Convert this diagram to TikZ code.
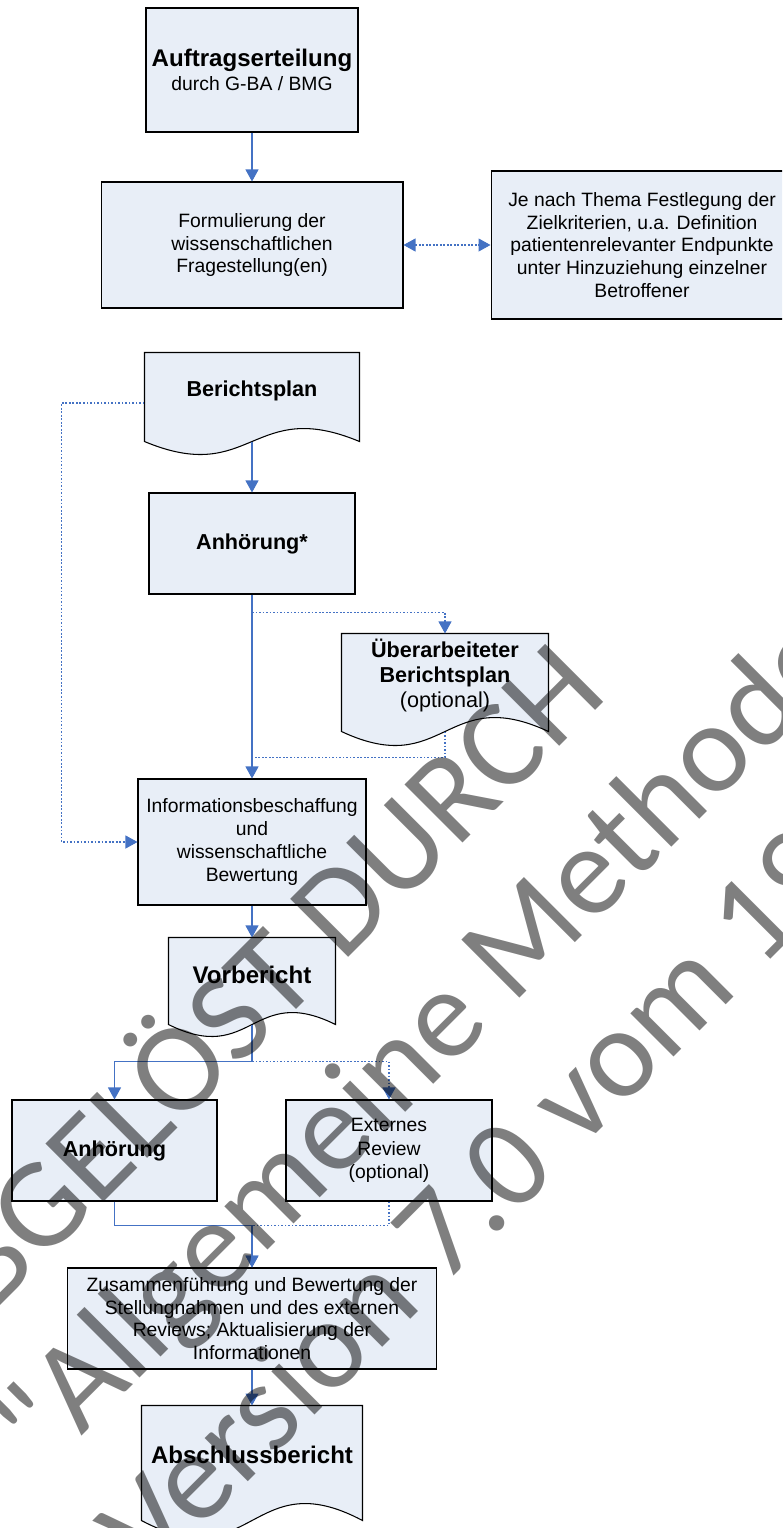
\documentclass[tikz,border=0pt]{standalone}
\usepackage{fontspec}
\setmainfont{Liberation Sans}
\newfontfamily\wmfont{Carlito}[Ligatures=TeXOff]
\usetikzlibrary{%
    arrows.meta,calc,backgrounds%
}
\definecolor{boxfill}{RGB}{232,238,247}
\definecolor{linkblue}{RGB}{68,114,196}

% document shape with wavy bottom, #1 node, #2 wave amplitude
\newcommand{\docshape}[2]{%
  \begin{scope}[on background layer]
  \draw[docline] (#1.north west) -- (#1.north east) -- ($(#1.south east)+(0,#2)$)
     .. controls ($(#1.south)+(0,-2.46*#2)$) and ($(#1.south)+(0,4.46*#2)$) .. ($(#1.south west)+(0,#2)$) -- cycle;
  \end{scope}
  \coordinate (#1-b) at ($(#1.south)+(0,#2)$)}

\begin{document}
\begin{tikzpicture}[x=0.02cm,y=-0.02cm,
    box/.style={draw,fill=boxfill,line width=0.6pt,align=center,inner sep=0pt,
        font={\fontsize{11}{13}\selectfont}},
    doc/.style={box,draw=none,fill=none},
    docline/.style={draw,fill=boxfill,line width=0.6pt},
    head/.style={font={\fontsize{12.3}{14.2}\selectfont\bfseries}},
    big/.style={font={\fontsize{13.7}{15.5}\selectfont\bfseries}},
    link/.style={linkblue,line width=0.6pt},
    optlink/.style={link,dash pattern=on 1pt off 1pt},
    >={Triangle[length=0.24cm,width=0.26cm]},
    wm/.style={rotate=45,anchor=base west,inner sep=0pt,text=black,text opacity=0.5,
        font={\wmfont\fontsize{72.8}{87}\selectfont}}]

\useasboundingbox (0,0) rectangle (782,1528);
\clip (0,0) rectangle (782,1528);

% main column
\node[box,minimum width=4.24cm,minimum height=2.48cm] (auftrag) at (252,70)
    {{\fontsize{13.7}{14}\selectfont\bfseries Auftragserteilung}\\[0.6pt]durch G-BA / BMG};
\node[box,minimum width=6.04cm,minimum height=2.52cm] (frage) at (252,245)
    {Formulierung der\\wissenschaftlichen\\Fragestellung(en)};
\node[box,minimum width=6.04cm,minimum height=2.96cm] (ziel) at (642,245)
    {Je nach Thema Festlegung der\\Zielkriterien, u.a. Definition\\patientenrelevanter Endpunkte\\unter Hinzuziehung einzelner\\Betroffener};

\node[doc,head,minimum width=4.28cm,minimum height=1.5cm] (bplan) at (252,390.5) {Berichtsplan};
\docshape{bplan}{13};
\node[box,head,minimum width=4.12cm,minimum height=2.02cm] (anh1) at (252,543.5) {Anhörung*};
\node[doc,head,minimum width=4.12cm,minimum height=1.66cm] (ueber) at (445,675.5)
    {Überarbeiteter\\Berichtsplan\\{\mdseries(optional)}};
\docshape{ueber}{14};

\node[box,minimum width=4.56cm,minimum height=2.52cm] (info) at (252,842)
    {Informationsbeschaffung\\und\\wissenschaftliche\\Bewertung};
\node[doc,big,minimum width=3.32cm,minimum height=1.48cm] (vorb) at (252,975) {Vorbericht};
\docshape{vorb}{12};

\node[box,head,minimum width=4.10cm,minimum height=2.02cm] (anh2) at (114.5,1150.5) {Anhörung};
\node[box,minimum width=4.12cm,minimum height=2.02cm,font={\fontsize{11}{13.4}\selectfont}] (extern) at (389,1150.5)
    {Externes\\Review\\(optional)};
\node[box,minimum width=7.40cm,minimum height=2.02cm] (zus) at (252,1318.5)
    {Zusammenführung und Bewertung der\\Stellungnahmen und des externen\\Reviews; Aktualisierung der\\Informationen};
\node[doc,big,minimum width=4.40cm,minimum height=1.94cm] (absch) at (252,1454.5) {Abschlussbericht};
\docshape{absch}{17};

% connectors
\draw[link,->] (auftrag) -- (frage);
\draw[optlink,<->] (frage) -- (ziel);
\draw[link,->] (bplan-b) -- (anh1);
\draw[optlink,->] ($(bplan.west)+(0,12.5)$) -- ++(-83,0) |- (info.west);
\draw[link,->] (anh1) -- (info);
\coordinate (split1) at ($(anh1.south)+(0,18)$);
\draw[optlink,->] (split1) -| (ueber.north);
\coordinate (join1) at ($(info.north)+(0,-21)$);
\draw[optlink] (ueber-b) |- (join1);
\draw[link,->] (info) -- (vorb);
\coordinate (split2) at ($(vorb-b)+(0,37)$);
\draw[link,->] (vorb-b) -- (split2) -| (anh2.north);
\draw[optlink,->] (split2) -| (extern.north);
\coordinate (join2) at ($(zus.north)+(0,-42)$);
\draw[link,->] (anh2.south) |- (join2) -- (zus.north);
\draw[optlink,->] (extern.south) |- (join2) -- (zus.north);
\draw[link,->] (zus) -- (absch);

% watermark
\node[wm] (wm1) at (-61.5,1367.4) {ABGELÖST DURCH};
\node[wm] (wm2) at (44.6,1473.4) {"Allgemeine Methoden"};
\node[wm] (wm3) at (150.7,1579.5) {Version 7.0 vom 19.09.2023};

\end{tikzpicture}
\end{document}
